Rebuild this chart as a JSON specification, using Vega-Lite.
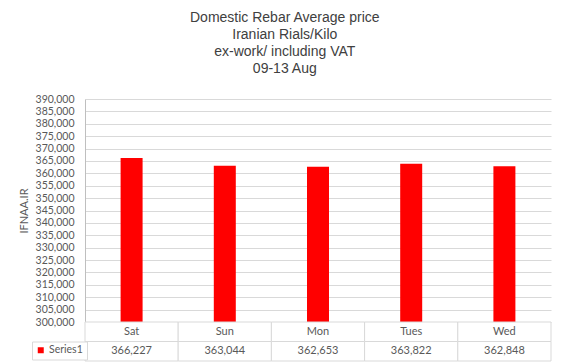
{
  "$schema": "https://vega.github.io/schema/vega-lite/v6.json",
  "background": "white",
  "padding": {"left": 18, "top": 11, "right": 14, "bottom": 7},
  "width": 466,
  "height": 262,
  "title": {
    "text": ["Domestic Rebar Average price", "Iranian  Rials/Kilo", "ex-work/ including VAT", "09-13 Aug"],
    "font": "Liberation Sans",
    "fontSize": 14,
    "fontWeight": "normal",
    "color": "#404040",
    "lineHeight": 17,
    "anchor": "middle",
    "frame": "bounds",
    "offset": 18
  },
  "config": {
    "view": {"stroke": null},
    "font": "Lato"
  },
  "data": {
    "values": [
      {"day": "Sat", "price": 366227},
      {"day": "Sun", "price": 363044},
      {"day": "Mon", "price": 362653},
      {"day": "Tues", "price": 363822},
      {"day": "Wed", "price": 362848}
    ]
  },
  "resolve": {"scale": {"y": "independent"}},
  "layer": [
    {
      "mark": {"type": "bar", "width": {"band": 0.236}},
      "encoding": {
        "x": {
          "field": "day", "type": "nominal", "sort": null,
          "scale": {"domain": ["Sat", "Sun", "Mon", "Tues", "Wed"], "paddingInner": 0, "paddingOuter": 0},
          "axis": null
        },
        "y": {
          "field": "price", "type": "quantitative",
          "scale": {"domain": [300000, 390000], "range": [223, 0], "zero": false, "nice": false},
          "axis": {
            "title": "IFNAA.IR",
            "values": [300000, 305000, 310000, 315000, 320000, 325000, 330000, 335000, 340000, 345000, 350000, 355000, 360000, 365000, 370000, 375000, 380000, 385000, 390000],
            "format": ",d",
            "ticks": false,
            "tickSize": 0,
            "labelPadding": 11,
            "labelFont": "Lato",
            "labelFontSize": 10.5,
            "labelColor": "#595959",
            "domainColor": "#bfbfbf",
            "gridColor": "#d9d9d9",
            "titleFont": "Lato",
            "titleFontSize": 11,
            "titleFontWeight": "normal",
            "titleColor": "#595959",
            "titlePadding": 6
          }
        },
        "y2": {"datum": 300000},
        "color": {
          "datum": "Series1",
          "scale": {"range": ["#ff0000"]},
          "legend": {
            "title": null,
            "orient": "none",
            "legendX": -53,
            "legendY": 242.5,
            "symbolType": "square",
            "symbolSize": 36,
            "symbolStrokeWidth": 0,
            "labelFont": "Lato",
            "labelFontSize": 10.5,
            "labelColor": "#595959",
            "labelOffset": 3,
            "strokeColor": "#d9d9d9",
            "fillColor": "white",
            "padding": 3.5
          }
        }
      }
    },
    {
      "layer": [
        {
          "mark": {"type": "rect", "fill": "white", "stroke": "#d9d9d9", "strokeWidth": 1},
          "encoding": {
            "x": {"field": "day", "type": "nominal", "sort": null, "axis": null},
            "y": {"datum": "cat", "type": "nominal", "scale": {"domain": ["cat", "val"], "range": [223, 262], "paddingInner": 0, "paddingOuter": 0}, "axis": null}
          }
        },
        {
          "mark": {"type": "rect", "fill": "white", "stroke": "#d9d9d9", "strokeWidth": 1},
          "encoding": {
            "x": {"field": "day", "type": "nominal", "sort": null, "axis": null},
            "y": {"datum": "val", "type": "nominal", "axis": null}
          }
        },
        {
          "mark": {"type": "text", "font": "Lato", "fontSize": 11, "color": "#595959"},
          "encoding": {
            "x": {"field": "day", "type": "nominal", "sort": null, "axis": null},
            "y": {"datum": "cat", "type": "nominal", "axis": null},
            "text": {"field": "day"}
          }
        },
        {
          "mark": {"type": "text", "font": "Lato", "fontSize": 11, "color": "#595959"},
          "encoding": {
            "x": {"field": "day", "type": "nominal", "sort": null, "axis": null},
            "y": {"datum": "val", "type": "nominal", "axis": null},
            "text": {"field": "price", "format": ",d"}
          }
        }
      ]
    }
  ]
}
